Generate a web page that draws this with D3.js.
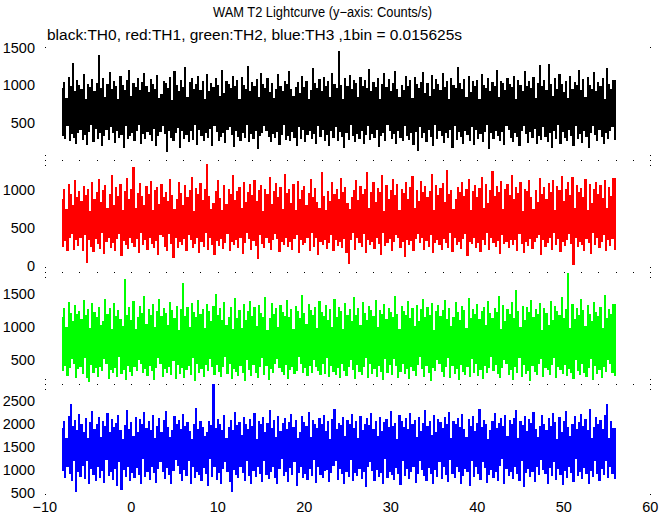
<!DOCTYPE html>
<html><head><meta charset="utf-8">
<script src="https://cdn.jsdelivr.net/npm/d3@7"></script>
<style>body{margin:0;background:#fff}svg{display:block}text{font-family:"Liberation Sans",Arial,sans-serif;fill:#000}</style>
</head><body><svg id="c" width="672" height="515"></svg>
<script>
// light curves: one value per 1/8 s (8 bins of 0.015625 s), starting at t = -8 s
const tStart = -8, binSec = 0.015625, binsPerSample = 8;
const th0 = [
960,310,1040,270,830,450,1110,250,990,340,1300,290,925,215,1070,360,
1000,400,945,260,1150,330,810,190,1020,370,980,460,1085,240,915,410,
1035,280,1400,350,960,175,1095,320,840,395,1010,260,1180,440,950,350,
1060,225,985,380,820,290,1125,335,1005,160,940,455,1075,270,1210,315,
850,360,1030,245,970,390,1100,470,930,210,1045,345,1160,280,985,375,
910,330,1080,255,1015,405,950,185,1135,310,830,365,880,445,1050,340,
1025,100,965,385,1105,295,800,250,1190,355,1000,430,925,150,1070,390,
980,280,1240,330,845,230,1040,380,1090,265,955,465,1010,200,1120,395,
935,310,1060,255,820,360,1150,290,915,410,1035,180,975,450,1095,375,
1005,245,855,300,1200,350,890,220,1055,395,1020,440,965,335,1130,165,
985,385,1075,305,810,250,1110,360,1000,290,955,470,1255,230,920,340,
1045,270,990,380,1085,140,840,315,1165,355,1015,445,960,390,1100,300,
905,235,1030,345,830,285,950,375,1145,195,995,330,925,460,1060,265,
1010,310,1185,250,945,370,850,295,980,185,1040,435,900,280,1125,395,
970,240,1055,325,815,385,935,270,1230,345,1025,210,960,455,1080,300,
915,395,1110,255,990,335,1050,175,835,380,1170,290,1020,440,965,245,
1460,370,1005,300,820,150,1095,355,985,265,1140,460,950,310,1065,230,
1030,345,845,280,1115,390,995,205,1075,325,960,445,1215,260,925,340,
1045,290,980,395,1100,170,810,320,1020,360,1160,245,970,470,1085,380,
915,270,1035,340,1195,215,955,385,840,295,1000,250,940,450,1120,315,
985,260,1070,350,825,195,1105,375,1010,120,965,440,1040,285,1180,360,
900,240,1025,395,850,300,1135,180,950,465,1080,270,1015,380,935,310,
1160,225,975,355,1050,290,815,400,1095,160,1000,450,960,265,1240,370,
1030,300,945,215,1085,385,835,325,1120,250,910,440,1055,195,995,395,
1070,280,820,340,1150,235,1005,375,965,460,1100,145,925,355,1040,270,
990,390,1205,310,845,255,1060,365,1025,190,935,445,1090,400,1010,285,
970,240,1130,350,810,305,1075,175,1000,385,920,455,1185,340,985,225,
1050,370,960,295,1110,410,830,205,1035,320,1270,260,995,440,1065,300,
940,235,1290,355,1015,160,850,390,1095,280,950,465,1150,215,1020,370,
905,295,1060,250,825,400,1125,310,945,185,1040,445,1005,270,1200,340,
930,225,1080,385,840,305,1110,150,1000,360,955,450,1175,330,925,245,
1045,395,990,300,1090,215,815,350,1235,275,1015,385,945,440,1070,260];
const th1 = [
880,250,1010,330,740,190,1070,360,940,420,790,215,1120,340,900,260,
980,370,850,200,1040,410,920,40,1005,335,720,245,1090,180,870,355,
960,285,1130,225,830,430,995,160,1060,310,750,370,945,240,1180,300,
800,195,1025,350,910,415,1075,130,730,330,975,280,1150,220,880,365,
1000,300,1290,250,760,355,955,175,1085,425,915,270,790,345,1045,205,
935,360,1110,290,725,235,990,330,1030,150,815,405,1065,375,905,255,
970,200,845,420,1140,285,925,110,745,360,870,240,1095,315,950,270,
800,355,1050,190,895,410,985,345,1165,230,715,290,1020,365,940,175,
1080,320,865,250,1000,430,1330,210,910,370,740,280,825,145,975,330,
1115,260,890,355,735,225,1060,305,810,415,1005,190,935,320,1190,270,
855,340,980,240,1035,360,755,160,1095,300,830,425,965,350,1070,215,
920,325,1125,265,845,95,995,410,1050,290,720,230,1010,370,940,300,
1160,205,815,335,975,420,1085,355,905,180,1030,310,745,280,1200,365,
950,245,1000,320,825,215,1065,350,730,405,1105,165,870,340,990,270,
1045,300,800,360,955,200,1135,425,895,255,1020,370,840,140,760,310,
1230,280,915,345,725,225,980,300,850,410,1090,190,935,335,1010,260,
880,320,1150,240,960,355,1030,170,825,30,740,340,900,430,995,210,
1120,360,865,300,1040,250,945,415,1005,175,1230,345,750,270,970,315,
1095,225,835,365,1015,290,960,150,1180,425,720,260,1050,305,870,355,
985,200,1135,320,920,410,1065,360,735,235,1000,310,950,120,1090,345,
880,280,1025,330,1170,190,755,355,990,420,845,300,1110,370,965,215,
1045,325,900,250,975,405,1200,165,725,295,1060,340,925,270,1015,205,
1080,355,830,300,1250,240,945,430,990,180,740,365,875,280,1035,310,
960,220,1095,350,910,415,1005,130,1140,320,730,290,980,370,1055,240,
895,305,1020,185,1165,345,760,270,1070,425,820,210,985,360,1240,295,
915,250,1045,325,970,155,1110,410,745,285,1000,310,1075,230,930,345,
1185,270,880,335,1030,200,955,420,1090,290,715,170,1010,320,975,260,
1125,355,905,225,740,310,990,370,830,405,1150,145,945,335,1025,250,
870,300,1080,360,960,205,1115,430,735,275,1040,350,985,185,1175,310,
850,265,1005,345,1100,415,930,290,1160,15,750,370,1050,255,965,320,
1020,280,895,200,1135,355,725,300,1065,160,825,425,1000,270,1095,365,
940,240,1055,320,885,410,1120,195,755,345,1030,265,910,350,1145,215];
const th2 = [
1150,330,1280,410,1000,260,1370,380,1210,520,1090,440,1330,225,1185,360,
1240,400,1120,285,1395,530,1170,230,1265,170,980,420,1350,310,1215,375,
1140,250,1300,395,1030,330,1085,510,1420,445,1195,210,1275,355,960,305,
1360,385,1160,240,1250,540,1110,290,1010,345,1720,200,1180,410,1290,320,
1095,265,1385,390,970,335,1145,500,1305,440,1200,300,1460,370,1040,255,
1260,415,1175,330,1340,195,990,385,1235,525,1410,435,1155,245,1285,360,
1205,310,1020,400,1375,270,1250,490,1135,215,1315,425,950,295,1270,380,
1650,230,1165,350,1295,410,1000,280,1355,535,1225,185,1145,445,1400,300,
1185,365,1265,250,975,420,1335,335,1240,510,1090,390,1310,275,1490,430,
1170,315,1280,240,1105,395,1365,545,1030,290,1150,440,1300,210,960,370,
1425,325,1130,265,1255,410,985,300,1345,180,1095,500,1230,345,1385,255,
1160,425,1290,310,1010,235,1320,390,1205,530,1140,280,1450,415,955,200,
1125,360,1360,300,1190,440,1275,515,995,385,1330,320,1220,270,1165,430,
1395,215,1150,355,1260,400,965,290,1310,340,1235,540,1135,445,1470,310,
1200,375,1040,260,1340,415,1250,305,1175,505,1290,395,980,330,1380,270,
1215,435,1155,295,1325,525,1095,240,1270,410,1000,320,1420,280,1140,385,
1300,225,1230,440,960,335,1355,260,1180,400,1265,495,1090,355,1440,210,
1170,425,1285,315,1025,270,1370,395,1210,535,1100,230,1315,445,1245,290,
1160,365,1400,250,990,410,1255,325,1190,195,1340,510,1110,300,1280,430,
1225,270,1150,520,1465,405,1195,235,970,320,1305,440,1240,285,1170,370,
1380,215,1130,395,1275,330,1015,255,1330,425,1085,545,1260,360,1415,240,
1145,410,1295,300,1180,185,1355,375,955,335,1230,500,1320,440,1165,315,
1250,250,1405,390,1120,530,1285,225,1005,415,1140,295,1365,360,1215,200,
1095,430,1310,325,1245,280,980,400,1430,240,1130,515,1270,310,1190,445,
1345,265,1110,350,1235,215,1300,410,1030,300,1390,385,1205,540,1125,335,
1280,420,1215,290,1455,230,965,375,1325,505,1090,440,1260,270,1185,355,
1370,205,1135,400,1550,310,1240,525,995,250,1315,425,1105,295,1290,340,
1225,190,1400,410,1145,325,1265,280,1195,435,1350,510,950,240,1275,385,
1210,345,1020,270,1385,420,1095,535,1305,225,1235,395,1175,350,1445,290,
1130,430,1260,260,1800,370,985,310,1335,215,1115,500,1285,335,1170,280,
1410,440,1245,300,1010,245,1320,380,1190,520,1090,195,1365,415,1225,290,
1155,355,1300,230,975,400,1475,320,1125,505,1260,435,1185,310,1340,260];
const th3 = [
1900,980,2050,820,1700,1060,2160,900,2430,760,1950,1200,2080,520,1870,940,
2210,850,1990,1080,1820,790,2120,1180,1680,700,2040,1010,2270,880,1880,760,
2000,1050,2150,830,1720,970,2060,720,1960,1220,2230,870,1810,940,2100,780,
1920,1020,2010,650,2180,1160,1860,560,1660,990,1975,840,2310,1070,1890,760,
2030,930,1740,810,2140,1040,1830,880,2095,690,1985,1230,2250,850,1905,950,
2060,770,1870,1060,2190,920,1690,720,1950,1010,2120,1170,1815,950,2075,800,
2280,1040,1925,890,1710,680,1860,970,2165,1210,1995,1080,2090,910,1880,750,
2220,1000,1960,860,2035,1190,1845,700,1670,1050,2005,820,2340,960,1895,880,
2070,760,1935,1030,1730,900,1820,640,2050,1240,1975,850,2870,1060,1910,780,
2110,930,1990,700,1855,1020,2200,1170,1695,960,1940,740,2085,520,1875,1000,
2260,890,1965,820,2040,1070,1750,930,2150,760,2000,1200,1895,860,2105,690,
1950,980,2235,840,1665,1050,2065,900,1985,730,2140,1190,1815,880,2020,790,
2300,950,1905,1070,2080,820,1720,680,2175,1020,1845,1230,2010,860,2120,960,
1880,740,2045,1040,2215,880,1930,1160,2090,650,1685,930,1825,1060,2160,820,
2030,900,1955,780,2250,1010,1710,860,2075,1220,2000,710,1915,1050,2135,890,
1990,820,2195,970,1850,1000,2060,740,1675,920,2110,1080,2330,1180,1885,780,
2025,1020,1965,900,2145,690,1740,960,2085,840,1990,1210,2210,760,1900,930,
2055,870,1690,1010,2170,790,1860,950,2005,620,2120,1060,1975,1170,2240,980,
1895,760,2070,1000,1725,850,2155,930,1835,700,2040,1240,2100,820,1920,960,
2280,890,1960,770,2015,1040,1660,910,2185,660,2050,1190,1935,860,2125,1010,
1880,800,2230,940,1995,1060,2080,720,1705,900,2140,1200,1850,990,2015,870,
2300,760,1950,1030,2060,910,1745,680,2190,990,1825,850,2095,1170,2035,790,
1910,1050,2155,880,1990,730,2265,1220,1680,910,2070,810,2000,1060,2130,940,
1940,700,2215,870,1880,1020,1720,950,2105,640,1960,1190,2175,840,1835,1070,
2025,900,2320,780,1925,1160,2085,1040,1995,720,1665,880,1870,1000,2060,830,
2240,950,1900,760,2010,1080,2120,1230,1950,690,2200,1010,1735,870,2075,940,
1985,800,2135,1050,2290,900,1690,760,2050,1180,1970,620,2165,930,1840,1020,
2095,850,2020,960,2250,740,1890,1070,1710,880,1960,1210,2180,1000,2005,900,
1870,700,2115,1040,1945,860,2225,1170,2040,770,1675,1010,2140,890,1825,660,
2060,980,2275,820,1920,1060,1740,920,1995,740,2160,1230,1880,870,2030,960,
2205,800,1955,1030,2105,900,1865,690,2330,980,1700,850,1940,1200,2145,910,
2000,760,2080,1020,1895,880,2185,1190,2430,820,1685,1050,2060,900,1910,800];

const seriesColors = ["#000000", "#ff0000", "#00ff00", "#0000ff"];
const yTicks = [[500,1000,1500],[0,500,1000],[500,1000,1500],[500,1000,1500,2000,2500]];
const xTicks = [-10,0,10,20,30,40,50,60];
const title = "WAM T2 Lightcurve (y\u2212axis: Counts/s)";
const subtitle = "black:TH0, red:TH1, green:TH2, blue:TH3 ,1bin = 0.015625s";

const svg = d3.select("#c");
const x = d3.scaleLinear().domain([-10, 60]).range([44.8, 650.3]);
const bounds = [48, 159.5, 272, 384, 494.5];
const domains = [[0,1500],[-77,1388],[140,1820],[461,2865]];
const data = [th0, th1, th2, th3];
const dt = binSec * binsPerSample;

data.forEach((vals, p) => {
  const y = d3.scaleLinear().domain(domains[p]).range([bounds[p+1], bounds[p]]);
  // each pixel column spans from the sample to its neighbour (as a dense light curve does)
  const cols = vals.map((v, i) => {
    const w = i < vals.length - 1 ? vals[i+1] : vals[i-1];
    const x0 = Math.round(x(tStart + i * dt));
    const x1 = Math.round(x(tStart + (i + 1) * dt));
    return {x0, x1: Math.max(x1, x0 + 1), hi: Math.max(v, w), lo: Math.min(v, w)};
  });
  svg.append("g").attr("fill", seriesColors[p]).attr("shape-rendering", "crispEdges")
    .selectAll("rect").data(cols).join("rect")
    .attr("x", d => d.x0).attr("width", d => d.x1 - d.x0)
    .attr("y", d => Math.round(y(d.hi))).attr("height", d => Math.max(1, Math.round(y(d.lo)) - Math.round(y(d.hi))));
  svg.append("g").selectAll("text").data(yTicks[p]).join("text")
    .attr("x", 35).attr("y", d => y(d)).attr("dy", "0.36em").attr("text-anchor", "end")
    .attr("font-size", 14.5).text(d => d);
});

// tick dots along panel boundaries
const dotG = svg.append("g").attr("fill", "#000");
[1,2,3].forEach(b => {
  const yy = Math.round(bounds[b]);
  d3.range(-8, 60, 2).forEach(v => dotG.append("rect").attr("x", Math.round(x(v))).attr("y", yy).attr("width", 1).attr("height", 1));
  [-5, 0, 5].forEach(o => {
    dotG.append("rect").attr("x", 45).attr("y", yy + o).attr("width", 1).attr("height", 1);
    dotG.append("rect").attr("x", 650).attr("y", yy + o).attr("width", 1).attr("height", 1);
  });
});
[[45,47],[650,47],[45,494],[650,494]].forEach(([a,b]) => dotG.append("rect").attr("x", a).attr("y", b).attr("width", 1).attr("height", 1));

svg.append("g").selectAll("text").data(xTicks).join("text")
  .attr("x", d => x(d)).attr("y", 507).attr("dy", "0.36em").attr("text-anchor", "middle")
  .attr("font-size", 14.5).text(d => d < 0 ? "\u2212" + Math.abs(d) : d);

svg.append("text").attr("x", 213).attr("y", 17).attr("font-size", 14)
  .attr("textLength", 219).attr("lengthAdjust", "spacingAndGlyphs").text(title);
svg.append("text").attr("x", 47).attr("y", 40).attr("font-size", 14)
  .attr("textLength", 415).attr("lengthAdjust", "spacingAndGlyphs").text(subtitle);
</script></body></html>
